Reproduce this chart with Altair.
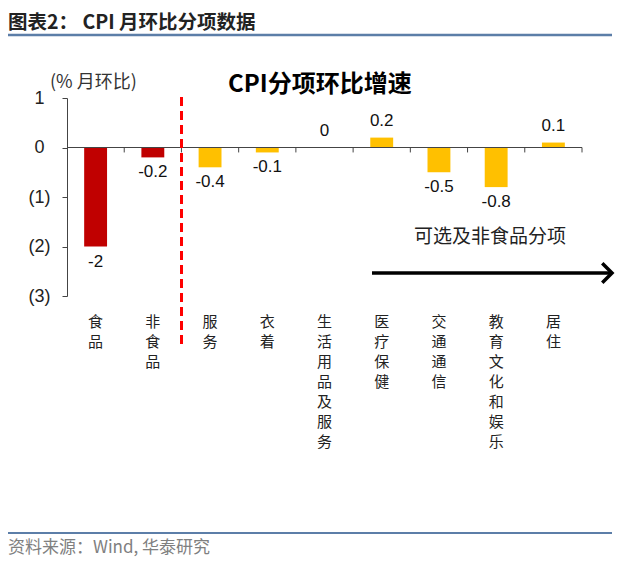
import altair as alt
import pandas as pd

categories = ["食品", "非食品", "服务", "衣着", "生活用品及服务", "医疗保健", "交通通信", "教育文化和娱乐", "居住"]
values = [-2, -0.2, -0.4, -0.1, 0, 0.2, -0.5, -0.8, 0.1]
value_labels = ["-2", "-0.2", "-0.4", "-0.1", "0", "0.2", "-0.5", "-0.8", "0.1"]
groups = ["食品类", "食品类", "可选", "可选", "可选", "可选", "可选", "可选", "可选"]
y_ticks = [1, 0, -1, -2, -3]

df = pd.DataFrame({"cat": categories, "v": values, "lab": value_labels, "grp": groups})
tick_start_df = pd.DataFrame({"cat": categories[1:]})
tick_end_df = pd.DataFrame({"cat": categories[-1:]})

W, H = 515, 198
SANS = "Liberation Sans, Arial, sans-serif"
CJK = "Noto Sans CJK SC"
AXIS_COLOR = "#444444"

xscale = alt.Scale(domain=categories, paddingInner=0, paddingOuter=0)
yscale = alt.Scale(domain=[-3, 1], nice=False, zero=False)

base = alt.Chart(df)

bars = base.mark_bar(width=alt.RelativeBandSize(0.4)).encode(
    x=alt.X("cat:N", sort=categories, scale=xscale, title=None,
            axis=alt.Axis(labelExpr="split(datum.label, '')", labelAngle=0, domain=False, ticks=False,
                          labelFont=CJK, labelFontSize=15, labelLineHeight=20, labelColor="#222222",
                          labelPadding=18, labelBaseline="top", labelAlign="center")),
    y=alt.Y("v:Q", scale=yscale, title=None,
            axis=alt.Axis(values=y_ticks, grid=False, labelFont=SANS, labelFontSize=18,
                          labelColor="#222222", labelPadding=23, labelAlign="center",
                          tickSize=5, tickColor=AXIS_COLOR, domainColor=AXIS_COLOR,
                          labelExpr="datum.value < 0 ? '(' + abs(datum.value) + ')' : '' + datum.value")),
    color=alt.Color("grp:N", scale=alt.Scale(domain=["食品类", "可选"], range=["#C00000", "#FFC000"]), legend=None),
)

zero_line = base.mark_rule(color=AXIS_COLOR, strokeWidth=1).encode(
    x=alt.value(0), x2=alt.value(W), y=alt.Y(datum=0, scale=yscale))

ticks_a = alt.Chart(tick_start_df).mark_rule(color=AXIS_COLOR, strokeWidth=1).encode(
    x=alt.X("cat:N", sort=categories, scale=xscale, bandPosition=0),
    y=alt.Y(datum=0, scale=yscale), y2=alt.Y2(datum=-0.1))
ticks_b = alt.Chart(tick_end_df).mark_rule(color=AXIS_COLOR, strokeWidth=1).encode(
    x=alt.X("cat:N", sort=categories, scale=xscale, bandPosition=1),
    y=alt.Y(datum=0, scale=yscale), y2=alt.Y2(datum=-0.1))

neg_labels = base.transform_filter("datum.v < 0").mark_text(
    font=SANS, fontSize=17, baseline="top", dy=7, color="#111111"
).encode(x=alt.X("cat:N", sort=categories, scale=xscale), y=alt.Y("v:Q", scale=yscale), text="lab:N")

pos_labels = base.transform_filter("datum.v >= 0").mark_text(
    font=SANS, fontSize=17, baseline="bottom", dy=-8, color="#111111"
).encode(x=alt.X("cat:N", sort=categories, scale=xscale), y=alt.Y("v:Q", scale=yscale), text="lab:N")

deco_df = pd.DataFrame({"k": [0]})
deco = alt.Chart(deco_df)

separator = deco.mark_rule(color="#FF0000", strokeWidth=3, strokeDash=[9, 5]).encode(
    x=alt.value(114.5), y=alt.value(-1), y2=alt.value(250),
)

arrow_line = deco.mark_rule(color="#000000", strokeWidth=3.5).encode(
    x=alt.value(305), x2=alt.value(544), y=alt.value(175))
arrow_head = deco.mark_point(shape="M-1,-1L0,0L-1,1", filled=False, size=380, strokeWidth=3.5,
                             color="#000000", opacity=1).encode(x=alt.value(545), y=alt.value(175))

group_text = deco.mark_text(text="可选及非食品分项", font=CJK, fontSize=19, color="#222222",
                            align="center", baseline="middle").encode(x=alt.value(423), y=alt.value(139))
inner_title = deco.mark_text(text="CPI分项环比增速", font=CJK, fontSize=24, fontWeight="bold",
                             color="#000000", align="left", baseline="middle").encode(x=alt.value(161), y=alt.value(-13))
unit_text = deco.mark_text(text="(%  月环比)", font=CJK, fontSize=18, color="#333333",
                           align="left", baseline="middle").encode(x=alt.value(-17), y=alt.value(-15))

head_title = deco.mark_text(text="图表2：  CPI 月环比分项数据", font=CJK, fontSize=19.5, fontWeight="bold",
                            color="#222222", align="left", baseline="middle").encode(x=alt.value(-59), y=alt.value(-75))
head_line = deco.mark_rule(color="#5C7EA8", strokeWidth=2.5).encode(
    x=alt.value(-61), x2=alt.value(545), y=alt.value(-63))
foot_line = deco.mark_rule(color="#5C7EA8", strokeWidth=2).encode(
    x=alt.value(-61), x2=alt.value(545), y=alt.value(435))
foot_text = deco.mark_text(text="资料来源：Wind, 华泰研究", font=CJK, fontSize=17, color="#808080",
                           align="left", baseline="middle").encode(x=alt.value(-59), y=alt.value(450))

chart = alt.layer(
    bars, zero_line, ticks_a, ticks_b, neg_labels, pos_labels, separator,
    arrow_line, arrow_head, group_text, inner_title, unit_text,
    head_title, head_line, foot_line, foot_text,
).properties(
    width=W, height=H,
    autosize=alt.AutoSizeParams(type="none"),
    padding={"left": 59, "top": 90, "right": 50, "bottom": 262},
    background="#FFFFFF",
).configure_view(stroke=None)

chart.save("out.html", embed_options={"renderer": "svg", "actions": False})
